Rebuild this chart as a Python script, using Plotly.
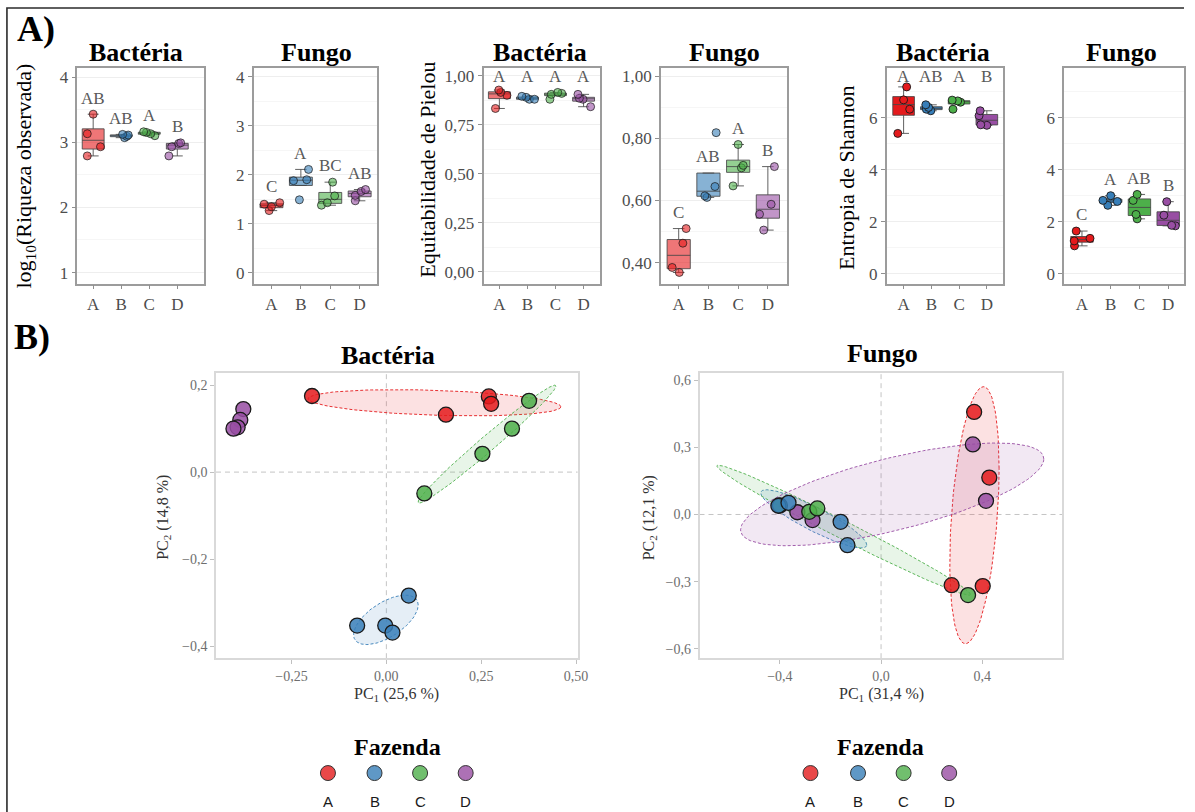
import numpy as np
import plotly.graph_objects as go

W, H = 1195, 812
SERIF = "Liberation Serif, Times New Roman, serif"
SANS = "Liberation Sans, Arial, sans-serif"

FARMS = ["A", "B", "C", "D"]
COLORS = {"A": "#E41A1C", "B": "#377EB8", "C": "#4DAF4A", "D": "#984EA3"}

# ---------------- alpha diversity (four samples per farm) ----------------
riqueza_bac = {"A": [2.79, 2.93, 3.13, 3.43], "B": [3.07, 3.09, 3.11, 3.12],
               "C": [3.10, 3.13, 3.15, 3.16], "D": [2.79, 2.93, 2.98, 2.99]}
riqueza_fun = {"A": [1.27, 1.35, 1.40, 1.43], "B": [1.49, 1.88, 1.90, 2.11],
               "C": [1.38, 1.43, 1.57, 1.85], "D": [1.47, 1.58, 1.66, 1.70]}
pielou_bac = {"A": [0.833, 0.900, 0.915, 0.927], "B": [0.880, 0.880, 0.890, 0.895],
              "C": [0.880, 0.905, 0.910, 0.915], "D": [0.842, 0.880, 0.885, 0.905]}
pielou_fun = {"A": [0.369, 0.385, 0.463, 0.510], "B": [0.610, 0.615, 0.645, 0.818],
              "C": [0.647, 0.705, 0.713, 0.780], "D": [0.505, 0.556, 0.588, 0.709]}
shannon_bac = {"A": [5.40, 6.33, 6.69, 7.19], "B": [6.27, 6.33, 6.40, 6.50],
               "C": [6.33, 6.60, 6.65, 6.68], "D": [5.71, 5.73, 6.08, 6.27]}
shannon_fun = {"A": [1.07, 1.26, 1.36, 1.64], "B": [2.63, 2.78, 2.82, 3.00],
               "C": [2.11, 2.28, 2.82, 3.05], "D": [1.84, 1.86, 2.25, 2.77]}

# compact letter display (Tukey groups)
letters_riq_bac = ["AB", "AB", "A", "B"]
letters_riq_fun = ["C", "A", "BC", "AB"]
letters_pie_bac = ["A", "A", "A", "A"]
letters_pie_fun = ["C", "AB", "A", "B"]
letters_sha_bac = ["A", "AB", "A", "B"]
letters_sha_fun = ["C", "A", "AB", "B"]

# ---------------- PCA scores ----------------
bac_pc1 = {"A": [-0.196, 0.270, 0.276, 0.157], "B": [0.059, -0.077, -0.003, 0.016],
           "C": [0.376, 0.331, 0.253, 0.100], "D": [-0.377, -0.385, -0.392, -0.403]}
bac_pc2 = {"A": [0.175, 0.174, 0.157, 0.132], "B": [-0.284, -0.353, -0.353, -0.369],
           "C": [0.164, 0.100, 0.042, -0.049], "D": [0.145, 0.120, 0.103, 0.100]}
fun_pc1 = {"A": [0.368, 0.428, 0.279, 0.402], "B": [-0.406, -0.366, -0.160, -0.133],
           "C": [-0.400, -0.284, -0.252, 0.344], "D": [0.363, 0.415, -0.331, -0.271]}
fun_pc2 = {"A": [0.458, 0.165, -0.316, -0.320], "B": [0.039, 0.052, -0.033, -0.137],
           "C": [0.040, 0.012, 0.027, -0.360], "D": [0.313, 0.061, 0.010, -0.025]}

# horizontal jitter of the sample points inside each box (category units)
jit_riq_bac = {"A": [-0.21, 0.26, -0.21, 0.0], "B": [0.12, 0.2, 0.25, 0.05],
               "C": [0.2, 0.05, -0.1, -0.2], "D": [-0.3, -0.2, 0.05, 0.12]}
jit_riq_fun = {"A": [-0.08, 0.0, -0.25, 0.28], "B": [-0.05, -0.25, 0.2, 0.26],
               "C": [-0.3, -0.1, 0.15, 0.08], "D": [-0.15, -0.15, 0.05, 0.2]}
jit_pie_bac = {"A": [-0.14, 0.27, 0.05, -0.02], "B": [0.07, 0.25, -0.05, -0.2],
               "C": [-0.2, -0.15, 0.22, 0.08], "D": [0.25, -0.02, -0.15, -0.2]}
jit_pie_fun = {"A": [0.02, -0.22, 0.14, 0.25], "B": [-0.05, -0.12, 0.22, 0.26],
               "C": [-0.17, 0.11, 0.17, 0.0], "D": [-0.14, -0.28, 0.11, 0.22]}
jit_sha_bac = {"A": [-0.21, 0.22, 0.0, 0.11], "B": [-0.02, -0.18, -0.1, -0.2],
               "C": [-0.22, 0.05, -0.05, -0.25], "D": [0.0, -0.22, -0.28, -0.24]}
jit_sha_fun = {"A": [-0.26, -0.27, 0.28, -0.2], "B": [-0.1, 0.23, -0.27, 0.0],
               "C": [-0.08, -0.12, -0.22, -0.08], "D": [0.25, 0.12, -0.15, -0.05]}

BOX_WIDTH = 0.78
ELLIPSE_SD = 1.5


def rgba(hexc, a):
    h = hexc.lstrip("#")
    return f"rgba({int(h[0:2], 16)},{int(h[2:4], 16)},{int(h[4:6], 16)},{a})"


def box_stats(v):
    v = np.sort(np.asarray(v, float))
    q1, med, q3 = np.percentile(v, [25, 50, 75])
    iqr = q3 - q1
    lo = v[v >= q1 - 1.5 * iqr].min()
    hi = v[v <= q3 + 1.5 * iqr].max()
    return q1, med, q3, lo, hi


def ellipse(xs, ys, k=ELLIPSE_SD, n=120):
    pts = np.column_stack([xs, ys])
    c = pts.mean(axis=0)
    cov = np.cov(pts, rowvar=False)
    r = np.linalg.cholesky(cov).T
    t = np.linspace(0, 2 * np.pi, n + 1)
    circ = np.column_stack([np.cos(t), np.sin(t)])
    e = c + k * circ @ r
    return e[:, 0], e[:, 1]


def ax(k):
    return ("x" if k == 1 else f"x{k}"), ("y" if k == 1 else f"y{k}")


def axkey(k):
    return ("xaxis" if k == 1 else f"xaxis{k}"), ("yaxis" if k == 1 else f"yaxis{k}")


box_panels = [
    dict(data=riqueza_bac, letters=letters_riq_bac, jit=jit_riq_bac, dx=(78, 206),
         xr=(0.433, 4.956), yr=(0.83, 4.14), dtick=1, fmt="d", minor=0.5, alpha=0.6, top=None),
    dict(data=riqueza_fun, letters=letters_riq_fun, jit=jit_riq_fun, dx=(256, 381),
         xr=(0.393, 4.607), yr=(-0.22, 4.18), dtick=1, fmt="d", minor=0.5, alpha=0.6, top=None),
    dict(data=pielou_bac, letters=letters_pie_bac, jit=jit_pie_bac, dx=(488, 606),
         xr=(0.435, 4.6), yr=(-0.061, 1.04), dtick=0.25, fmt=".2f", minor=0.125, alpha=0.6, top=0.995),
    dict(data=pielou_fun, letters=letters_pie_fun, jit=jit_pie_fun, dx=(667, 794),
         xr=(0.4, 4.633), yr=(0.333, 1.026), dtick=0.2, fmt=".2f", minor=0.1, alpha=0.6, top=None),
    dict(data=shannon_bac, letters=letters_sha_bac, jit=jit_sha_bac, dx=(895, 1012),
         xr=(0.393, 4.571), yr=(-0.385, 7.92), dtick=2, fmt="d", minor=1, alpha=1.0, top=7.6),
    dict(data=shannon_fun, letters=letters_sha_fun, jit=jit_sha_fun, dx=(1074, 1195),
         xr=(0.379, 4.55), yr=(-0.385, 7.92), dtick=2, fmt="d", minor=1, alpha=1.0, top=None),
]
BOX_TOP, BOX_BOTTOM = 67, 283

fig = go.Figure()
layout = {}
annotations = []
shapes = []

for k, p in enumerate(box_panels, start=1):
    xa, ya = ax(k)
    xk, yk = axkey(k)
    yspan = p["yr"][1] - p["yr"][0]
    for i, farm in enumerate(FARMS):
        vals = p["data"][farm]
        q1, med, q3, lo, hi = box_stats(vals)
        fig.add_trace(go.Box(
            x=[i + 1], q1=[q1], median=[med], q3=[q3], lowerfence=[lo], upperfence=[hi],
            width=BOX_WIDTH, fillcolor=rgba(COLORS[farm], p["alpha"]),
            line=dict(color="rgba(70,70,70,0.85)", width=1), boxpoints=False,
            xaxis=xa, yaxis=ya, hoverinfo="skip"))
        fig.add_trace(go.Scatter(
            x=[i + 1 + j for j in p["jit"][farm]], y=vals, mode="markers",
            marker=dict(size=8, color=rgba(COLORS[farm], p["alpha"]),
                        line=dict(color=rgba("#1a1a1a", min(1, p["alpha"] + 0.2)), width=0.9)),
            xaxis=xa, yaxis=ya, hoverinfo="skip"))
        ly = p["top"] if p["top"] is not None else max(hi, q3) + 0.075 * yspan
        annotations.append(dict(x=i + 1, y=ly, xref=xa, yref=ya, text=p["letters"][i],
                                showarrow=False, yanchor="middle",
                                font=dict(family=SERIF, size=17, color="#595959")))
    layout[xk] = dict(domain=[p["dx"][0] / W, p["dx"][1] / W], range=list(p["xr"]),
                      tickvals=[1, 2, 3, 4], ticktext=FARMS, ticks="outside", ticklen=4,
                      tickcolor="#8f8f8f", tickwidth=1.2,
                      tickfont=dict(family=SERIF, size=17, color="#4d4d4d"),
                      showline=True, mirror=True, linecolor="#9c9c9c", linewidth=1.5,
                      showgrid=False, zeroline=False, anchor=ya, fixedrange=True)
    layout[yk] = dict(domain=[1 - BOX_BOTTOM / H, 1 - BOX_TOP / H], range=list(p["yr"]),
                      tick0=0, dtick=p["dtick"], tickformat=p["fmt"], ticks="outside", ticklen=4,
                      tickcolor="#8f8f8f", tickwidth=1.2,
                      tickfont=dict(family=SERIF, size=17, color="#4d4d4d"),
                      showline=True, mirror=True, linecolor="#9c9c9c", linewidth=1.5,
                      showgrid=True, gridcolor="#eeeeee", gridwidth=1,
                      minor=dict(tick0=0, dtick=p["minor"], showgrid=True, gridcolor="#f6f6f6", ticks=""),
                      zeroline=False, anchor=xa, fixedrange=True)

# ---------------- PCA panels ----------------
pca_panels = [
    dict(pc1=bac_pc1, pc2=bac_pc2, dx=(218, 583), xr=(-0.449, 0.504), yr=(-0.428, 0.229),
         xdt=0.25, xfmt=".2f", ydt=0.2, yfmt=".1f", ell=["A", "B", "C"], order=["A", "B", "C", "D"]),
    dict(pc1=fun_pc1, pc2=fun_pc2, dx=(706, 1072), xr=(-0.718, 0.716), yr=(-0.642, 0.634),
         xdt=0.4, xfmt=".1f", ydt=0.3, yfmt=".1f", ell=["A", "B", "C", "D"], order=["A", "D", "C", "B"]),
]
PCA_TOP, PCA_BOTTOM = 372, 658

for j, p in enumerate(pca_panels, start=7):
    xa, ya = ax(j)
    xk, yk = axkey(j)
    for farm in FARMS:
        if farm in p["ell"]:
            ex, ey = ellipse(p["pc1"][farm], p["pc2"][farm])
            fig.add_trace(go.Scatter(x=ex, y=ey, mode="lines", fill="toself",
                                     fillcolor=rgba(COLORS[farm], 0.13),
                                     line=dict(color=rgba(COLORS[farm], 0.9), width=1, dash="3px,2px"),
                                     xaxis=xa, yaxis=ya, hoverinfo="skip"))
    for farm in p["order"]:
        fig.add_trace(go.Scatter(x=p["pc1"][farm], y=p["pc2"][farm], mode="markers",
                                 marker=dict(size=15, color=rgba(COLORS[farm], 0.85),
                                             line=dict(color="#1a1a1a", width=1.3)),
                                 xaxis=xa, yaxis=ya, hoverinfo="skip"))
    shapes.append(dict(type="line", xref=xa, yref=f"{ya} domain", x0=0, x1=0, y0=0, y1=1,
                       line=dict(color="#c4c4c4", width=1, dash="5px,4px"), layer="below"))
    shapes.append(dict(type="line", xref=f"{xa} domain", yref=ya, x0=0, x1=1, y0=0, y1=0,
                       line=dict(color="#c4c4c4", width=1, dash="5px,4px"), layer="below"))
    common = dict(ticks="outside", ticklen=4, tickcolor="#c0c0c0", tickwidth=1.2,
                  tickfont=dict(family=SERIF, size=14, color="#6e6e6e"),
                  showline=True, mirror=True, linecolor="#d9d9d9", linewidth=1.5,
                  showgrid=False, zeroline=False, fixedrange=True)
    layout[xk] = dict(domain=[p["dx"][0] / W, p["dx"][1] / W], range=list(p["xr"]),
                      tick0=0, dtick=p["xdt"], tickformat=p["xfmt"], anchor=ya, **common)
    layout[yk] = dict(domain=[1 - PCA_BOTTOM / H, 1 - PCA_TOP / H], range=list(p["yr"]),
                      tick0=0, dtick=p["ydt"], tickformat=p["yfmt"], anchor=xa, **common)

# ---------------- page-level overlay in pixel units ----------------
layout["xaxis9"] = dict(domain=[0, 1], range=[0, W], visible=False, fixedrange=True, anchor="y9")
layout["yaxis9"] = dict(domain=[0, 1], range=[H, 0], visible=False, fixedrange=True, anchor="x9")


def txt(x, y, text, size, family=SERIF, color="#000000", angle=0):
    annotations.append(dict(x=x, y=y, xref="x9", yref="y9", text=text, showarrow=False,
                            textangle=angle, xanchor="center", yanchor="middle",
                            font=dict(family=family, size=size, color=color)))


# figure frame
shapes.append(dict(type="path", xref="x9", yref="y9", path=f"M 7 {H} L 7 7 L {W} 7",
                   line=dict(color="#2b2b2b", width=1.6)))

txt(36, 28, "<b>A)</b>", 36)
txt(32, 336, "<b>B)</b>", 36)

for x, t in [(137, "Bactéria"), (319, "Fungo"), (545, "Bactéria"), (731, "Fungo"),
             (952, "Bactéria"), (1132, "Fungo")]:
    txt(x, 52, f"<b>{t}</b>", 26)
txt(392, 355, "<b>Bactéria</b>", 26)
txt(891, 353, "<b>Fungo</b>", 26)

txt(25, 175, "log<sub>10</sub>(Riqueza observada)", 22, angle=-90)
txt(432, 169, "Equitabilidade de Pielou", 22, angle=-90)
txt(855, 177, "Entropia de Shannon", 22, angle=-90)

txt(400, 694, "PC<sub>1</sub> (25,6 %)", 16, color="#333333")
txt(890, 694, "PC<sub>1</sub> (31,4 %)", 16, color="#333333")
txt(165, 517, "PC<sub>2</sub> (14,8 %)", 16, color="#333333", angle=-90)
txt(655, 517, "PC<sub>2</sub> (12,1 %)", 16, color="#333333", angle=-90)

# farm keys under each PCA panel
for cx, keys_x in [(401, [331, 378, 424, 470]), (889, [818, 866, 912, 958])]:
    txt(cx, 747, "<b>Fazenda</b>", 24)
    for farm, kx in zip(FARMS, keys_x):
        fig.add_trace(go.Scatter(x=[kx], y=[773], mode="markers",
                                 marker=dict(size=15, color=rgba(COLORS[farm], 0.8),
                                             line=dict(color="#333333", width=1)),
                                 xaxis="x9", yaxis="y9", hoverinfo="skip"))
        txt(kx, 801, farm, 15, family=SANS, color="#1a1a1a")

fig.update_layout(
    width=W, height=H, margin=dict(l=0, r=0, t=0, b=0),
    paper_bgcolor="white", plot_bgcolor="rgba(0,0,0,0)",
    showlegend=False, separators=",.", boxmode="overlay",
    annotations=annotations, shapes=shapes, **layout)

fig.write_html("out.html")
